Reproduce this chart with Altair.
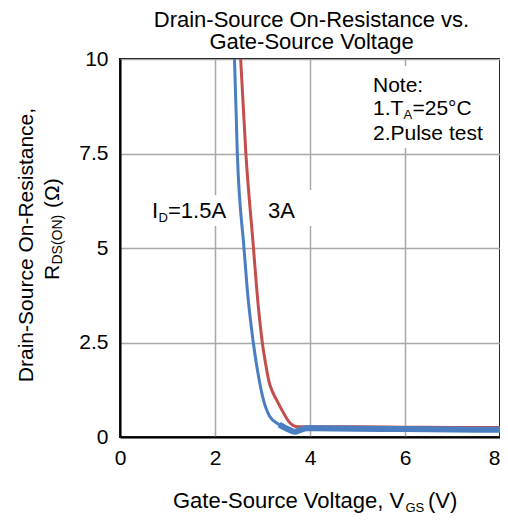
import altair as alt
import pandas as pd

FONT = "Liberation Sans"

# ---- data ----
vgs_15a = [2.36, 2.41, 2.47, 2.61, 2.68, 2.81, 2.93, 3.02, 3.15, 3.35, 3.55, 3.68, 3.80, 3.93, 5.0, 6.0, 7.0, 8.0]
rds_15a = [11.0, 10.0, 7.5, 5.0, 3.89, 2.46, 1.51, 0.98, 0.55, 0.33, 0.20, 0.14, 0.19, 0.23, 0.22, 0.21, 0.20, 0.19]

vgs_3a = [2.50, 2.54, 2.65, 2.81, 2.88, 3.00, 3.06, 3.13, 3.21, 3.31, 3.45, 3.56, 3.65, 3.75, 4.0, 5.0, 6.0, 7.0, 8.0]
rds_3a = [11.0, 10.0, 7.5, 5.0, 3.89, 2.46, 1.98, 1.50, 1.20, 0.95, 0.62, 0.40, 0.30, 0.27, 0.27, 0.27, 0.26, 0.25, 0.25]

x_ticks = [0, 2, 4, 6, 8]
y_ticks = [0, 2.5, 5, 7.5, 10]

BLUE = "#4a7ec0"
RED = "#c24f4c"

df15 = pd.DataFrame({"V": vgs_15a, "R": rds_15a})
df3 = pd.DataFrame({"V": vgs_3a, "R": rds_3a})
df15_tail = df15[df15["V"] >= 3.35]

xenc = alt.X("V:Q", scale=alt.Scale(domain=[0, 8], nice=False),
             axis=alt.Axis(values=x_ticks, title=None, labelPadding=10, format=".1~f",
                           labelFlush=False,
                           labelAlign={"condition": {"test": "datum.value >= 8", "value": "right"},
                                       "value": "center"}))
yenc = alt.Y("R:Q", scale=alt.Scale(domain=[0, 10], nice=False),
             axis=alt.Axis(values=y_ticks, title=None, labelPadding=12, format=".1~f",
                           labelFlush=False))

line3 = alt.Chart(df3).mark_line(color=RED, strokeWidth=3, clip=True, interpolate="monotone").encode(x=xenc, y=yenc)
line15 = alt.Chart(df15).mark_line(color=BLUE, strokeWidth=3, clip=True, interpolate="monotone").encode(x=xenc, y=yenc)
line15t = alt.Chart(df15_tail).mark_line(color=BLUE, strokeWidth=6, clip=True, interpolate="monotone").encode(x=xenc, y=yenc)

one = alt.Data(values=[{}])


def box(x0, x1, y0, y1):
    return alt.Chart(one).mark_rect(color="white").encode(
        x=alt.value(x0), x2=alt.value(x1), y=alt.value(y0), y2=alt.value(y1))


def txt(s, x, y, size, align="left", angle=0):
    kw = dict(font=FONT, fontSize=size, color="black", align=align, baseline="alphabetic")
    if angle:
        kw["angle"] = angle
    return alt.Chart(one).mark_text(**kw).encode(
        x=alt.value(x), y=alt.value(y), text=alt.value(s))


# page coords -> plot coords: (x-120, y-59)
def P(x, y):
    return x - 120, y - 59


layers = [
    box(28, 110, 136, 167),
    box(143, 195, 131, 167),
    box(246, 379, 7, 89),
    line3, line15, line15t,
]

pieces = [
    # title
    ("Drain-Source On-Resistance vs.", 311.5, 26.5, 22, "center", 0),
    ("Gate-Source Voltage", 311.5, 49, 22, "center", 0),
    # curve labels
    ("I", 152, 218, 22, "left", 0),
    ("D", 158.5, 222, 13, "left", 0),
    ("=1.5A", 168, 218, 22, "left", 0),
    ("3A", 268, 218, 22, "left", 0),
    # note
    ("Note:", 373, 92, 21, "left", 0),
    ("1.T", 373, 115, 21, "left", 0),
    ("A", 403.5, 119, 13, "left", 0),
    ("=25°C", 412.5, 115, 21, "left", 0),
    ("2.Pulse test", 373, 140, 21, "left", 0),
    # x axis title
    ("Gate-Source Voltage, V", 173, 508, 22, "left", 0),
    ("GS", 405.5, 512, 13, "left", 0),
    ("(V)", 428, 508, 22, "left", 0),
    # y axis title
    ("Drain-Source On-Resistance,", 33, 245, 21, "center", 270),
    ("R", 59, 280, 21, "left", 270),
    ("DS(ON)", 62, 264.5, 14, "left", 270),
    ("(Ω)", 59, 208, 21, "left", 270),
]
for s, x, y, size, align, angle in pieces:
    px, py = P(x, y)
    layers.append(txt(s, px, py, size, align, angle))

chart = alt.layer(*layers).properties(
    width=380, height=378,
    autosize=alt.AutoSizeParams(type="none"),
    padding={"left": 112, "top": 51, "right": 0, "bottom": 78},
).configure_view(
    stroke="black", strokeWidth=2
).configure_axis(
    domainColor="black", domainWidth=2, grid=True, gridColor="#a8a8a8", gridWidth=1.5,
    ticks=False, tickSize=0, labelFont=FONT, labelFontSize=21, labelColor="black"
)

chart.save("out.html", embed_options={"renderer": "svg", "actions": False})
